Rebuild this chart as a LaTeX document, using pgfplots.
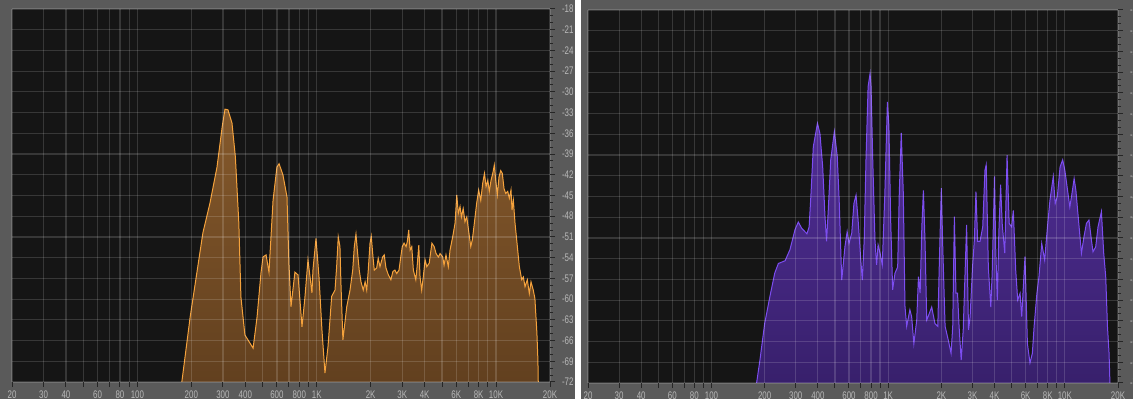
\documentclass[border=0pt]{standalone}
\usepackage{fontspec}
\setmainfont{Liberation Sans}
\newfontfamily\tickfont{Liberation Sans}[FakeStretch=0.72]
\usepackage{pgfplots}
\usepackage{pgfplotstable}
\pgfplotsset{compat=1.18}
\definecolor{panel}{HTML}{5A5A5A}
\definecolor{bgbot}{HTML}{151515}
\definecolor{ticklab}{HTML}{B8B8B8}
\definecolor{orline}{HTML}{F5A23C}
\definecolor{ortop}{HTML}{85592B}
\definecolor{orbot}{HTML}{62401F}
\definecolor{puline}{HTML}{7C4DF0}
\definecolor{putop}{HTML}{55309E}
\definecolor{pubot}{HTML}{38206C}

\pgfplotstableread{
f db
177 -72
197 -62.6
232 -50.4
254 -46.1
278 -40.9
297 -35.1
308 -32.5
320 -32.6
337 -34.5
352 -39.4
368 -49.0
378 -59.7
398 -65.2
442 -67.1
465 -62.6
489 -56.2
502 -53.9
522 -53.6
542 -56.1
571 -45.7
600 -40.9
617 -40.4
648 -42.0
683 -45.2
700 -54.8
719 -61.1
756 -56.1
787 -56.5
828 -64.0
860 -59.7
894 -54.3
941 -59.1
953 -55.8
991 -51.2
1030 -56.8
1070 -64.5
1112 -70.7
1156 -66.9
1212 -59.6
1265 -58.7
1292 -55.3
1319 -51.0
1348 -52.4
1365 -57.7
1400 -65.9
1471 -61.1
1534 -58.7
1588 -55.8
1621 -52.4
1656 -50.6
1692 -53.4
1727 -55.8
1766 -57.5
1818 -58.7
1862 -57.5
1901 -58.7
1939 -55.8
1983 -51.9
2015 -50.9
2052 -53.4
2094 -55.8
2160 -55.5
2203 -54.1
2254 -55.3
2332 -53.9
2380 -53.6
2434 -55.5
2510 -56.5
2593 -57.2
2660 -56.0
2730 -55.8
2794 -56.3
2878 -55.8
2943 -53.9
3000 -52.4
3070 -51.9
3150 -52.4
3200 -51.7
3260 -50.0
3320 -52.9
3390 -52.4
3460 -55.8
3570 -57.2
3630 -55.3
3710 -52.2
3770 -56.8
3850 -58.7
3930 -56.8
4020 -54.3
4110 -55.3
4240 -54.8
4390 -51.9
4520 -52.4
4630 -53.4
4770 -53.9
4873 -53.4
5045 -53.9
5130 -55.1
5260 -53.6
5420 -55.3
5540 -52.9
5730 -51.0
5910 -49.0
6040 -44.9
6160 -47.6
6300 -46.6
6410 -48.1
6560 -46.9
6710 -48.8
6870 -48.1
7000 -49.7
7230 -52.4
7380 -51.4
7570 -49.0
7800 -46.1
8000 -44.2
8220 -45.7
8430 -43.2
8620 -41.8
8800 -43.7
9000 -42.8
9170 -44.4
9380 -42.8
9590 -41.8
9780 -40.6
9960 -42.8
10170 -44.9
10390 -42.3
10620 -41.4
10840 -41.8
11080 -44.0
11320 -44.7
11620 -44.4
11860 -45.4
12120 -44.2
12280 -47.1
12490 -45.7
12760 -49.0
13150 -52.4
13490 -55.3
13910 -57.2
14200 -56.8
14510 -58.2
14950 -57.2
15330 -59.2
15670 -57.5
16130 -58.7
16470 -59.9
16900 -64.9
17120 -68.8
17200 -72
}\orangedata

\pgfplotstableread{
f db
180 -72
188 -68.7
200 -63.4
214 -59.5
228 -56.1
239 -54.7
261 -54.3
278 -52.7
297 -49.8
310 -48.7
324 -49.6
347 -50.4
357 -49.4
366 -44.5
377 -37.8
398 -34.4
411 -35.9
426 -40.7
439 -47.9
448 -51.5
458 -47.0
473 -39.7
496 -35.6
515 -39.2
528 -45.5
546 -57.1
569 -52.3
586 -50.1
600 -51.8
622 -50.3
640 -46.0
658 -44.8
676 -48.4
700 -54.2
714 -57.1
732 -51.3
749 -39.7
770 -29.1
790 -27.2
800 -29.1
818 -39.7
842 -51.3
860 -54.9
877 -52.0
900 -53.2
926 -54.9
958 -44.5
990 -31.3
1010 -34.9
1033 -48.4
1060 -58.5
1093 -56.1
1132 -55.2
1156 -44.5
1186 -35.8
1218 -44.5
1245 -60.9
1273 -63.8
1327 -61.4
1358 -62.4
1398 -66.3
1451 -62.9
1484 -56.6
1517 -59.0
1551 -49.4
1583 -44.1
1618 -51.8
1653 -62.9
1711 -61.9
1764 -61.0
1840 -63.4
1910 -63.8
1950 -54.2
2000 -43.8
2037 -52.3
2100 -63.8
2190 -65.8
2270 -67.7
2320 -63.8
2370 -47.9
2420 -59.0
2470 -59.0
2520 -63.8
2590 -68.7
2660 -64.3
2780 -49.1
2850 -64.3
2910 -62.4
3000 -55.4
3075 -51.3
3140 -44.3
3210 -51.5
3310 -51.5
3430 -49.4
3530 -41.2
3590 -40.4
3690 -55.2
3810 -61.0
3880 -56.1
4000 -42.1
4060 -52.3
4150 -60.0
4230 -50.3
4330 -43.3
4420 -48.9
4570 -53.2
4710 -39.0
4840 -48.9
5000 -49.4
5110 -47.0
5270 -55.6
5410 -60.0
5580 -59.0
5700 -62.4
5950 -53.7
6140 -66.3
6350 -69.1
6550 -67.7
6700 -63.8
6950 -59.0
7140 -56.6
7400 -51.8
7690 -54.2
7950 -49.8
8240 -45.5
8600 -42.1
8820 -46.0
9070 -45.0
9400 -40.7
9720 -39.7
10000 -41.2
10300 -43.6
10670 -46.5
10910 -45.0
11290 -42.4
11550 -44.1
11900 -47.9
12420 -53.2
12840 -50.8
13250 -48.9
13700 -48.4
14140 -51.3
14440 -53.0
14950 -52.3
15410 -49.4
16110 -47.2
16600 -53.2
17040 -56.6
17430 -63.8
17800 -67.7
18000 -72
}\purpledata

\pgfplotsset{
  specpanel/.style={
    scale only axis,
    anchor=south west,
    height=186.5pt,
    xmin=20, xmax=20000, ymin=-72, ymax=-18,
    xtick={20,30,40,50,60,70,80,90,100,200,300,400,500,600,700,800,900,1000,2000,3000,4000,5000,6000,7000,8000,9000,10000,20000},
    xticklabels={20,30,40,,60,,80,,100,200,300,400,,600,,800,,1K,2K,3K,4K,,6K,,8K,,10K,20K},
    minor x tick num=0,
    ytick={-72,-69,-66,-63,-60,-57,-54,-51,-48,-45,-42,-39,-36,-33,-30,-27,-24,-21,-18},
    yticklabels={-72,-69,-66,-63,-60,-57,-54,-51,-48,-45,-42,-39,-36,-33,-30,-27,-24,-21,-18},
    minor y tick num=2,
    grid=major,
    major grid style={white, opacity=0.15, line width=0.6pt},
    axis on top,
    axis line style={draw=none},
    tick align=outside,
    xtick pos=left,
    ytick pos=right,
    yticklabel pos=right,
    major tick length=2.5pt,
    minor tick length=1.5pt,
    tick style={color=black!85, line width=0.5pt},
    tick label style={font=\tickfont\fontsize{5.5}{6}\selectfont, text=ticklab},
    xticklabel style={yshift=1.8pt},
    axis background/.style={fill=bgbot},
  }
}

\begin{document}
\begin{tikzpicture}
\useasboundingbox (0pt,0pt) rectangle (566.5pt,199.5pt);
\clip (0pt,0pt) rectangle (566.5pt,199.5pt);
\fill[white] (0pt,0pt) rectangle (566.5pt,199.5pt);
\fill[panel] (0pt,0pt) rectangle (287.5pt,199.5pt);
\fill[panel] (290.5pt,0pt) rectangle (566.5pt,199.5pt);

\begin{semilogxaxis}[specpanel, at={(6pt,8.5pt)}, width=269pt]
\addplot[draw=orline, line width=0.5pt, top color=ortop, bottom color=orbot] table[x=f, y=db] {\orangedata};
\end{semilogxaxis}

\begin{semilogxaxis}[specpanel, at={(294pt,8pt)}, width=265pt]
\addplot[draw=puline, line width=0.5pt, top color=putop, bottom color=pubot] table[x=f, y=db] {\purpledata};
\end{semilogxaxis}
\end{tikzpicture}
\end{document}
